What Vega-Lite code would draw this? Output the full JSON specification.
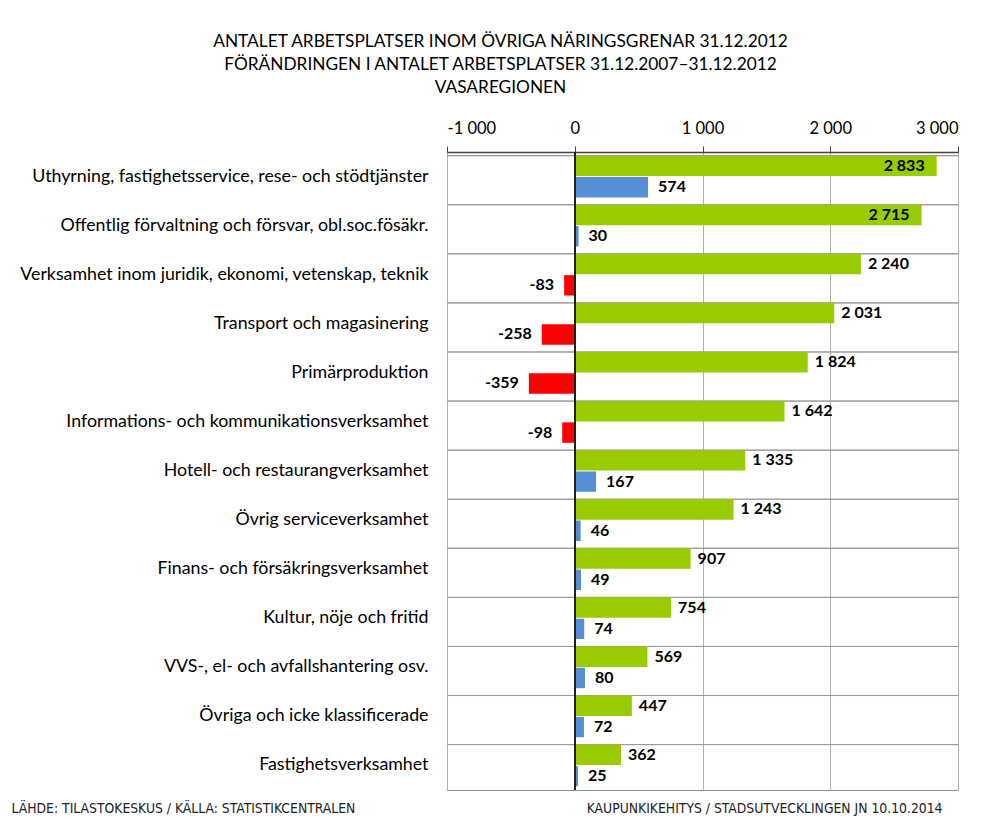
{
  "$schema": "https://vega.github.io/schema/vega-lite/v6.json",
  "width": 511,
  "height": 638,
  "autosize": "none",
  "padding": {"left": 447, "top": 152, "right": 26, "bottom": 32},
  "background": "white",
  "config": {
    "font": "Lato",
    "locale": {"number": {"decimal": ",", "thousands": " ", "grouping": [3], "currency": ["", " €"], "minus": "-"}},
    "view": {"stroke": "#8c8c8c", "strokeWidth": 1}
  },
  "title": {
    "text": ["ANTALET ARBETSPLATSER INOM ÖVRIGA NÄRINGSGRENAR  31.12.2012", "FÖRÄNDRINGEN I ANTALET ARBETSPLATSER 31.12.2007–31.12.2012", "VASAREGIONEN"],
    "font": "Lato",
    "fontSize": 17.3,
    "fontWeight": "normal",
    "color": "#000000",
    "anchor": "middle",
    "frame": "group",
    "dx": -202,
    "offset": 24,
    "lineHeight": 23
  },
  "data": {
    "values": [
      {"category": "Uthyrning, fastighetsservice, rese- och stödtjänster", "series": "Antal", "value": 2833},
      {"category": "Uthyrning, fastighetsservice, rese- och stödtjänster", "series": "Förändring", "value": 574},
      {"category": "Offentlig förvaltning och försvar, obl.soc.fösäkr.", "series": "Antal", "value": 2715},
      {"category": "Offentlig förvaltning och försvar, obl.soc.fösäkr.", "series": "Förändring", "value": 30},
      {"category": "Verksamhet inom juridik, ekonomi, vetenskap, teknik", "series": "Antal", "value": 2240},
      {"category": "Verksamhet inom juridik, ekonomi, vetenskap, teknik", "series": "Förändring", "value": -83},
      {"category": "Transport och magasinering", "series": "Antal", "value": 2031},
      {"category": "Transport och magasinering", "series": "Förändring", "value": -258},
      {"category": "Primärproduktion", "series": "Antal", "value": 1824},
      {"category": "Primärproduktion", "series": "Förändring", "value": -359},
      {"category": "Informations- och kommunikationsverksamhet", "series": "Antal", "value": 1642},
      {"category": "Informations- och kommunikationsverksamhet", "series": "Förändring", "value": -98},
      {"category": "Hotell- och restaurangverksamhet", "series": "Antal", "value": 1335},
      {"category": "Hotell- och restaurangverksamhet", "series": "Förändring", "value": 167},
      {"category": "Övrig serviceverksamhet", "series": "Antal", "value": 1243},
      {"category": "Övrig serviceverksamhet", "series": "Förändring", "value": 46},
      {"category": "Finans- och försäkringsverksamhet", "series": "Antal", "value": 907},
      {"category": "Finans- och försäkringsverksamhet", "series": "Förändring", "value": 49},
      {"category": "Kultur, nöje och fritid", "series": "Antal", "value": 754},
      {"category": "Kultur, nöje och fritid", "series": "Förändring", "value": 74},
      {"category": "VVS-, el- och avfallshantering osv.", "series": "Antal", "value": 569},
      {"category": "VVS-, el- och avfallshantering osv.", "series": "Förändring", "value": 80},
      {"category": "Övriga och icke klassificerade", "series": "Antal", "value": 447},
      {"category": "Övriga och icke klassificerade", "series": "Förändring", "value": 72},
      {"category": "Fastighetsverksamhet", "series": "Antal", "value": 362},
      {"category": "Fastighetsverksamhet", "series": "Förändring", "value": 25}
    ]
  },
  "layer": [
    {
      "mark": {"type": "rule", "color": "#9a9a9a", "strokeWidth": 1},
      "encoding": {
        "y": {"field": "category", "type": "nominal", "sort": null, "bandPosition": 0}
      }
    },
    {
      "mark": {"type": "bar"},
      "encoding": {
        "y": {
          "field": "category", "type": "nominal", "sort": null,
          "scale": {"paddingInner": 0.15, "paddingOuter": 0.075},
          "axis": {
            "orient": "left",
            "ticks": false,
            "domain": false,
            "labelPadding": 19,
            "labelFont": "Lato",
            "labelFontSize": 17.8,
            "labelColor": "#000000",
            "labelLimit": 600,
            "title": "LÄHDE: TILASTOKESKUS / KÄLLA: STATISTIKCENTRALEN",
            "titleAngle": 0,
            "titleAlign": "left",
            "titleBaseline": "middle",
            "titleX": -436,
            "titleY": 656,
            "titleFont": "DejaVu Sans Condensed, Liberation Sans, sans-serif",
            "titleFontSize": 13.8,
            "titleFontWeight": "normal",
            "titleColor": "#222222"
          }
        },
        "x": {
          "field": "value", "type": "quantitative",
          "scale": {"domain": [-1000, 3000], "nice": false},
          "axis": {
            "orient": "top",
            "values": [-1000, 0, 1000, 2000, 3000],
            "format": ",.0f",
            "grid": true,
            "gridColor": "#b0b0b0",
            "gridWidth": 1,
            "domainColor": "#444444",
            "domainWidth": 1.5,
            "tickColor": "#444444",
            "tickSize": 6,
            "labelPadding": 10,
            "labelFont": "Lato",
            "labelFontSize": 16.5,
            "labelColor": "#000000",
            "title": null
          }
        },
        "yOffset": {
          "field": "series", "type": "nominal", "sort": ["Antal", "Förändring"],
          "scale": {"paddingInner": 0.04}
        },
        "color": {
          "condition": [
            {"test": "datum.series === 'Antal'", "value": "#99CC00"},
            {"test": "datum.value < 0", "value": "#FF0000"}
          ],
          "value": "#558ED5"
        }
      }
    },
    {
      "mark": {"type": "rule", "color": "#222222", "strokeWidth": 1.2},
      "encoding": {
        "x": {
          "datum": 0, "type": "quantitative",
          "axis": {
            "orient": "bottom",
            "labels": false,
            "ticks": false,
            "domain": false,
            "grid": false,
            "title": "KAUPUNKIKEHITYS / STADSUTVECKLINGEN JN 10.10.2014",
            "titleX": 495,
            "titleY": 18,
            "titleAlign": "right",
            "titleBaseline": "middle",
            "titleFont": "DejaVu Sans Condensed, Liberation Sans, sans-serif",
            "titleFontSize": 13.8,
            "titleFontWeight": "normal",
            "titleColor": "#222222"
          }
        }
      }
    },
    {
      "transform": [{"filter": "datum.series === 'Antal' && datum.value > 2500"}],
      "mark": {"type": "text", "align": "right", "baseline": "middle", "dx": -12, "fontWeight": "bold", "fontSize": 16, "font": "Lato", "color": "#000000"},
      "encoding": {
        "y": {"field": "category", "type": "nominal", "sort": null},
        "yOffset": {"field": "series", "type": "nominal", "sort": ["Antal", "Förändring"]},
        "x": {"field": "value", "type": "quantitative", "axis": null},
        "text": {"field": "value", "type": "quantitative", "format": ",.0f"}
      }
    },
    {
      "transform": [{"filter": "datum.series === 'Antal' && datum.value <= 2500"}],
      "mark": {"type": "text", "align": "left", "baseline": "middle", "dx": 7, "fontWeight": "bold", "fontSize": 16, "font": "Lato", "color": "#000000"},
      "encoding": {
        "y": {"field": "category", "type": "nominal", "sort": null},
        "yOffset": {"field": "series", "type": "nominal", "sort": ["Antal", "Förändring"]},
        "x": {"field": "value", "type": "quantitative", "axis": null},
        "text": {"field": "value", "type": "quantitative", "format": ",.0f"}
      }
    },
    {
      "transform": [{"filter": "datum.series === 'Förändring' && datum.value >= 0"}],
      "mark": {"type": "text", "align": "left", "baseline": "middle", "dx": 10, "fontWeight": "bold", "fontSize": 16, "font": "Lato", "color": "#000000"},
      "encoding": {
        "y": {"field": "category", "type": "nominal", "sort": null},
        "yOffset": {"field": "series", "type": "nominal", "sort": ["Antal", "Förändring"]},
        "x": {"field": "value", "type": "quantitative", "axis": null},
        "text": {"field": "value", "type": "quantitative", "format": ",.0f"}
      }
    },
    {
      "transform": [{"filter": "datum.series === 'Förändring' && datum.value < 0"}],
      "mark": {"type": "text", "align": "right", "baseline": "middle", "dx": -10, "fontWeight": "bold", "fontSize": 16, "font": "Lato", "color": "#000000"},
      "encoding": {
        "y": {"field": "category", "type": "nominal", "sort": null},
        "yOffset": {"field": "series", "type": "nominal", "sort": ["Antal", "Förändring"]},
        "x": {"field": "value", "type": "quantitative", "axis": null},
        "text": {"field": "value", "type": "quantitative", "format": ",.0f"}
      }
    }
  ],
  "resolve": {"axis": {"x": "independent"}}
}
